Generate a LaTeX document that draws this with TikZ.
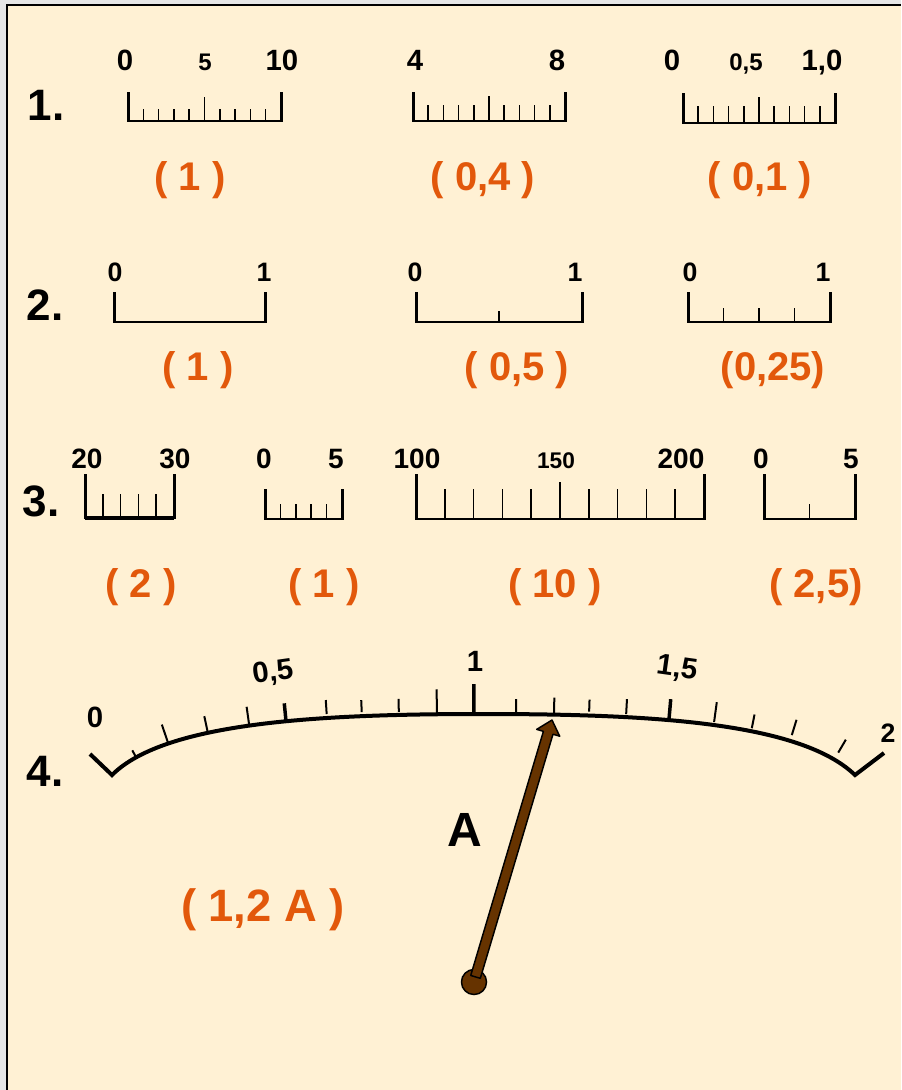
\documentclass[tikz,border=0pt]{standalone}
\usepackage{fontspec}
\setmainfont{Liberation Sans}
\usepackage{xcolor}
\usepackage{tikz}
\usetikzlibrary{calc, decorations.markings}
\definecolor{paper}{HTML}{FFF1D4}
\definecolor{frame}{HTML}{E6E6E6}
\definecolor{answer}{HTML}{E2580B}
\definecolor{needlebrown}{HTML}{663300}

\begin{document}
\begin{tikzpicture}[x=0.75pt, y=-0.75pt,
  rowlbl/.style={font=\bfseries\fontsize{33}{33}\selectfont, inner sep=0pt},
  numlbl/.style={font=\bfseries\fontsize{#1}{#1}\selectfont, anchor=base, inner sep=0pt},
  numlbl/.default=22,
  dialnum/.style={font=\bfseries\fontsize{22}{22}\selectfont, inner sep=0pt},
  anslbl/.style={font=\bfseries\fontsize{30}{30}\selectfont, text=answer, inner sep=0pt},
  baseline/.style={line width=1.5pt, line cap=rect},
  endtick/.style={line width=2.25pt},
  minortick/.style={line width=1.1pt},
  needlefill/.style={fill=needlebrown, draw=black, line width=1.1pt, line join=round}]
  \useasboundingbox (0,0) rectangle (901,1090);
  \fill[frame] (0,0) rectangle (901,1090);
  \fill[paper] (7,5) rectangle (901,1090);
  \draw[line width=1.5pt] (7,1090) -- (7,5) -- (901,5);

  % row labels
  \node[rowlbl] (r1) at (46,105) {1.};
  \node[rowlbl] (r2) at (45,305) {2.};
  \node[rowlbl] (r3) at (41,501) {3.};
  \node[rowlbl] (r4) at (45,771) {4.};

  % rulers: left, right, base, end top, divisions, minor top, middle top
  \foreach \xa/\xb/\yb/\ye/\n/\ym/\yc in {
      128/281/121/92/10/109/97, 413/565/121/92/10/105/96, 683/835/123/93/10/106/97,
      114/265/322/292/1/322/322, 416/582/322/292/2/311/311, 688/830/322/292/4/308/308,
      85/174/518/474/5/494/494, 265/342/519/489/5/504/504,
      416/704/519/474/10/489/482, 764/855/519/474/2/504/504}{
    \draw[baseline] (\xa,\yb) -- (\xb,\yb);
    \draw[endtick] (\xa,\ye) -- (\xa,\yb+1);
    \draw[endtick] (\xb,\ye) -- (\xb,\yb+1);
    \foreach \k in {1,...,\n}{
      \ifnum\k<\n
        \pgfmathsetmacro\tx{\xa+(\xb-\xa)*\k/\n}
        \pgfmathsetmacro\ty{(2*\k==\n) ? \yc : \ym}
        \draw[minortick] (\tx,\ty) -- (\tx,\yb);
      \fi
    }
  }
  \draw[line width=2.6pt] (85,518) -- (174,518);

  % row 1
  \node[numlbl] (a0) at (125,70) {0};
  \node[numlbl=18] (a5) at (205,70) {5};
  \node[numlbl] (a10) at (282,70) {10};
  \node[numlbl] (b4) at (415,70) {4};
  \node[numlbl] (b8) at (557,70) {8};
  \node[numlbl] (c0) at (672,70) {0};
  \node[numlbl=18] (c05) at (746,70) {0,5};
  \node[numlbl] (c10) at (822,70) {1,0};
  \node[anslbl] (ansa) at (190,180) {( 1 )};
  \node[anslbl] (ansb) at (483,180) {( 0,4 )};
  \node[anslbl] (ansc) at (760,180) {( 0,1 )};

  % row 2
  \node[numlbl=20] (d0) at (115,281) {0};
  \node[numlbl=20] (d1) at (264,281) {1};
  \node[numlbl=20] (e0) at (415,281) {0};
  \node[numlbl=20] (e1) at (575,281) {1};
  \node[numlbl=20] (f0) at (690,281) {0};
  \node[numlbl=20] (f1) at (823,281) {1};
  \node[anslbl] (ansd) at (198,370) {( 1 )};
  \node[anslbl] (anse) at (517,370) {( 0,5 )};
  \node[anslbl] (ansf) at (773,370) {(0,25)};

  % row 3
  \node[numlbl=21] (g20) at (87,468) {20};
  \node[numlbl=21] (g30) at (175,468) {30};
  \node[numlbl=21] (h0) at (264,468) {0};
  \node[numlbl=21] (h5) at (336,468) {5};
  \node[numlbl=21] (i100) at (417,468) {100};
  \node[numlbl=17] (i150) at (556,468) {150};
  \node[numlbl=21] (i200) at (681,468) {200};
  \node[numlbl=21] (j0) at (761,468) {0};
  \node[numlbl=21] (j5) at (851,468) {5};
  \node[anslbl] (ansg) at (141,587) {( 2 )};
  \node[anslbl] (ansh) at (324,587) {( 1 )};
  \node[anslbl] (ansi) at (555,587) {( 10 )};
  \node[anslbl] (ansj) at (816,587) {( 2,5)};

  % row 4: dial
  \coordinate (dl) at (112,775);
  \coordinate (k1) at (165,722);
  \coordinate (k2) at (320,714);
  \coordinate (dtop) at (483,714);
  \coordinate (k3) at (650,714);
  \coordinate (k4) at (800,722);
  \coordinate (dr) at (855,775);
  \draw[line width=3pt] (90,754) -- (dl) .. controls (k1) and (k2) .. (dtop)
    .. controls (k3) and (k4) .. (dr) -- (884,753);
  % ticks: distance along arc, gap, length, width (px / pt)
  \foreach \d/\g/\l/\w in {30/0/8/1.5, 65/0/20/1.5, 106/0/17/1.5, 148/0/19/1.5, 185/0/18/2.6,
      226/4/14/1.5, 261/4/12/1.5, 298/3/13/1.5, 336/0/25/1.5, 373/0/30/2.6,
      415/0/15/1.5, 453/0/17/1.5, 488/4/12/1.5, 525/3/15/1.5, 568/0/21/2.6,
      613/3/20/1.5, 651/3/14/1.5, 691/6/16/1.5, 739/8/15/1.5}{
    \pgfmathsetmacro\p{\d/765}
    \path[decorate, decoration={markings, mark=at position \p with
        {\draw[line width=\w pt] (0pt,{\g*0.75pt}) -- (0pt,{(\g+\l)*0.75pt});}}]
      (dl) .. controls (k1) and (k2) .. (dtop) .. controls (k3) and (k4) .. (dr);
  }
  \node[dialnum] (m0) at (95,717) {0};
  \node[dialnum, rotate=8] (m05) at (273,673) {0,5};
  \node[dialnum] (m1) at (475,661) {1};
  \node[dialnum, rotate=-8] (m15) at (677,669) {1,5};
  \node[dialnum, font=\bfseries\fontsize{20}{20}\selectfont] (m2) at (888,733) {2};

  % needle
  \coordinate (piv) at (474,982);
  \coordinate (tip) at (552,720);
  \coordinate (neck) at ($(tip)!10pt!(piv)$);
  \coordinate (foot) at ($(piv)!4pt!(tip)$);
  \filldraw[needlefill] (piv) circle[radius=9.4pt];
  \filldraw[needlefill] ($(foot)!3.75pt!90:(tip)$) -- ($(neck)!3.75pt!-90:(piv)$)
    -- ($(neck)!9pt!-90:(piv)$) -- (tip) -- ($(neck)!9pt!90:(piv)$)
    -- ($(neck)!3.75pt!90:(piv)$) -- ($(foot)!3.75pt!-90:(tip)$) -- cycle;
  \node[font=\bfseries\fontsize{36}{36}\selectfont, inner sep=0pt] (amp) at (465,830) {A};
  \node[anslbl, font=\bfseries\fontsize{34}{34}\selectfont] (ansk) at (263,910) {( 1,2 A )};
\end{tikzpicture}
\end{document}
